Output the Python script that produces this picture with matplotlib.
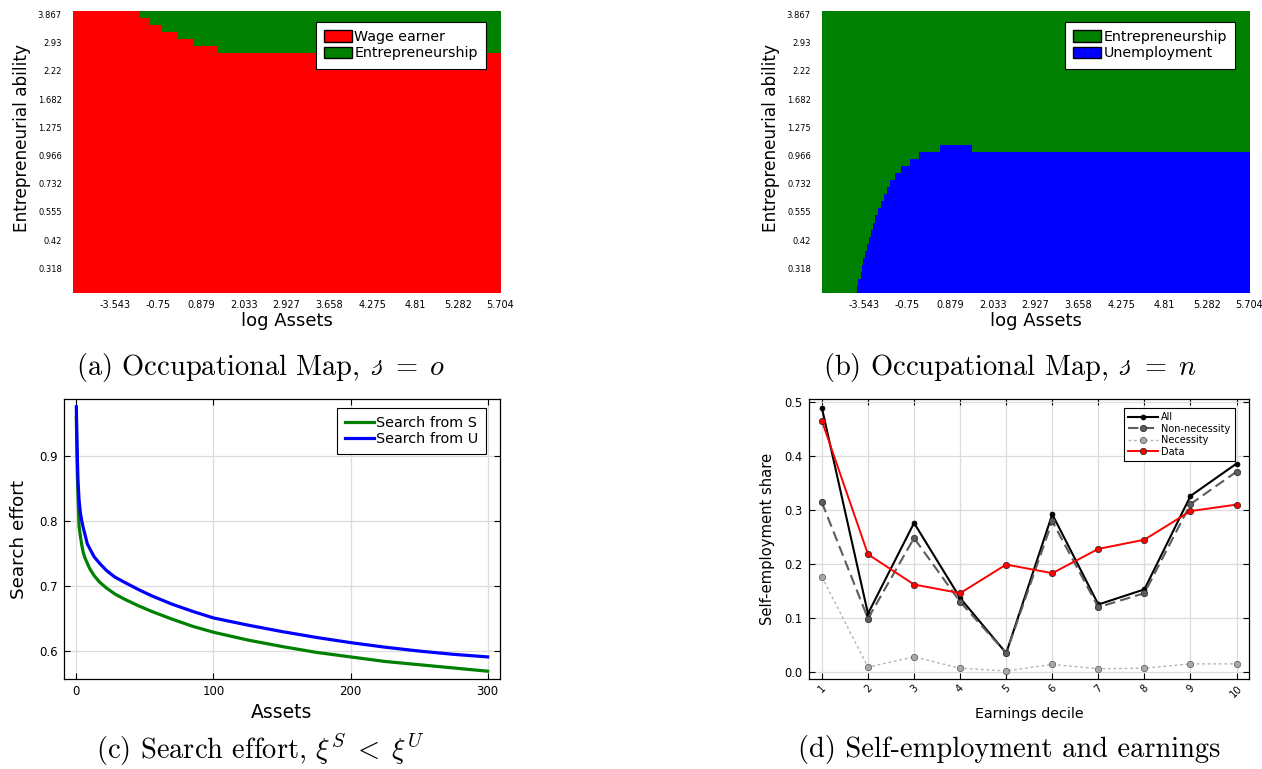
import numpy as np
import matplotlib
matplotlib.use("Agg")
import matplotlib.pyplot as plt
from matplotlib.colors import ListedColormap
from matplotlib.patches import Patch

plt.rcParams['mathtext.fontset'] = 'cm'
plt.rcParams['font.family'] = 'DejaVu Sans'

# ---------------- data ----------------
# occupational maps: grid of asset columns x ability rows (index space)
n_asset_cols = 400
n_ability_rows = 40
asset_tick_labels = ['-3.543', '-0.75', '0.879', '2.033', '2.927', '3.658', '4.275', '4.81', '5.282', '5.704']
ability_tick_labels = ['0.318', '0.42', '0.555', '0.732', '0.966', '1.275', '1.682', '2.22', '2.93', '3.867']

# panel (a): number of top ability rows that are entrepreneurs, starting at asset column
ent_top_rows = [1, 2, 3, 4, 5, 6]
ent_start_col = [62, 72, 83, 97, 112, 135]

# panel (b): unemployment rows (from bottom) start columns
unemp_rows = list(range(1, 21))
unemp_start_col = [33, 34, 36, 37, 38, 40, 42, 44, 46, 48, 50, 52, 55, 58, 61, 64, 68, 74, 82, 91]
unemp_extra_row = 21
unemp_extra_cols = (110, 140)

# panel (c): search effort
assets = [0, 0.3, 0.7, 1.2, 2, 3, 4, 5, 6, 8, 10, 13, 17, 22, 28, 35, 45, 55, 70, 85,
          100, 125, 150, 175, 200, 225, 250, 275, 300]
search_S = [0.960, 0.920, 0.875, 0.840, 0.792, 0.776, 0.763, 0.752, 0.745, 0.735, 0.726, 0.716,
            0.706, 0.697, 0.688, 0.680, 0.670, 0.661, 0.649, 0.638,
            0.629, 0.617, 0.607, 0.598, 0.591, 0.584, 0.579, 0.574, 0.569]
search_U = [0.976, 0.940, 0.900, 0.862, 0.832, 0.812, 0.800, 0.790, 0.782, 0.765, 0.757, 0.745,
            0.735, 0.724, 0.714, 0.706, 0.695, 0.685, 0.672, 0.661,
            0.651, 0.640, 0.630, 0.621, 0.613, 0.606, 0.600, 0.595, 0.591]

# panel (d): self-employment by earnings decile
deciles = list(range(1, 11))
se_all = [0.489, 0.108, 0.276, 0.137, 0.035, 0.292, 0.125, 0.153, 0.326, 0.386]
se_nonnec = [0.314, 0.099, 0.248, 0.130, 0.035, 0.279, 0.120, 0.146, 0.311, 0.371]
se_nec = [0.176, 0.009, 0.028, 0.007, 0.002, 0.014, 0.006, 0.007, 0.015, 0.015]
se_data = [0.465, 0.218, 0.162, 0.146, 0.199, 0.183, 0.228, 0.245, 0.298, 0.310]

# ---------------- figure ----------------
W, H = 1262, 769
fig = plt.figure(figsize=(W / 100, H / 100), dpi=100)

def ax_px(x0, x1, y0, y1):
    return fig.add_axes([x0 / W, 1 - y1 / H, (x1 - x0) / W, (y1 - y0) / H])

def occ_axes(ax, M, colors, labels):
    ax.imshow(M, origin='lower', extent=(0.5, n_asset_cols + 0.5, 0.5, n_ability_rows + 0.5),
              aspect='auto', interpolation='nearest', cmap=ListedColormap(colors), vmin=0, vmax=1)
    ax.set_xlim(0.5, n_asset_cols + 0.5)
    ax.set_ylim(0.5, n_ability_rows + 0.5)
    xt = [n_asset_cols // 10 * (i + 1) for i in range(10)]
    yt = [n_ability_rows // 10 * (i + 1) for i in range(10)]
    ax.set_xticks(xt)
    ax.set_xticklabels(asset_tick_labels, fontsize=7)
    ax.set_yticks(yt)
    ax.set_yticklabels(ability_tick_labels, fontsize=6)
    ax.tick_params(axis='x', length=0, pad=5)
    ax.tick_params(axis='y', length=0, pad=8)
    for s in ax.spines.values():
        s.set_visible(False)
    ax.set_xlabel('log Assets', fontsize=13)
    ax.set_ylabel('Entrepreneurial ability', fontsize=12.2)
    ax.xaxis.set_label_coords(0.5, -0.068)
    ax.yaxis.set_label_coords(-0.097, 0.55)
    handles = [Patch(facecolor=colors[i], edgecolor='black', linewidth=1) for i in range(2)]
    leg = ax.legend(handles, labels, loc='upper right', bbox_to_anchor=(0.966, 0.962),
                    borderaxespad=0, fontsize=10.3, fancybox=False, framealpha=1,
                    edgecolor='black', handlelength=1.95, handleheight=0.9,
                    handletextpad=0.15, labelspacing=0.15, borderpad=0.6)
    leg.get_frame().set_linewidth(0.8)

# panel (a)
Ma = np.zeros((n_ability_rows, n_asset_cols))
for k, c in zip(ent_top_rows, ent_start_col):
    Ma[n_ability_rows - k, c:] = 1
axa = ax_px(73, 501, 11, 293)
occ_axes(axa, Ma, ['#FF0000', '#008000'], ['Wage earner', 'Entrepreneurship'])

# panel (b)
Mb = np.zeros((n_ability_rows, n_asset_cols))
for k, c in zip(unemp_rows, unemp_start_col):
    Mb[k - 1, c:] = 1
Mb[unemp_extra_row - 1, unemp_extra_cols[0]:unemp_extra_cols[1]] = 1
axb = ax_px(822, 1250, 11, 293)
occ_axes(axb, Mb, ['#008000', '#0000FF'], ['Entrepreneurship', 'Unemployment'])

def boxed(ax):
    ax.grid(True, color='#dcdcdc', linewidth=0.9)
    ax.set_axisbelow(True)
    ax.tick_params(direction='in', top=True, right=True, length=4, width=0.8)
    for s in ax.spines.values():
        s.set_linewidth(0.9)

# panel (c)
axc = ax_px(64, 500, 399, 679)
axc.plot(assets, search_S, color='#008000', lw=2.3, label='Search from S')
axc.plot(assets, search_U, color='#0000FF', lw=2.3, label='Search from U')
axc.set_xlim(-9, 309)
axc.set_ylim(0.557, 0.988)
axc.set_xticks([0, 100, 200, 300])
axc.set_yticks([0.6, 0.7, 0.8, 0.9])
boxed(axc)
axc.tick_params(labelsize=8.5, pad=4.5)
axc.set_xlabel('Assets', fontsize=13.5)
axc.set_ylabel('Search effort', fontsize=13.2)
axc.xaxis.set_label_coords(0.5, -0.085)
axc.yaxis.set_label_coords(-0.082, 0.5)
leg = axc.legend(loc='upper right', bbox_to_anchor=(0.968, 0.968), borderaxespad=0,
                 fontsize=10.4, fancybox=False, framealpha=1, edgecolor='black',
                 handlelength=2.0, handletextpad=0.15, labelspacing=0.15, borderpad=0.55)
leg.get_frame().set_linewidth(0.8)

# panel (d)
axd = ax_px(809, 1249, 399, 679)
axd.plot(deciles, se_all, color='black', lw=1.5, marker='o', ms=3.6,
         mfc='black', mec='black', mew=0.5, label='All')
axd.plot(deciles, se_nonnec, color='#5c5c5c', lw=1.5, ls=(0, (5, 2.5)), marker='o', ms=4.6,
         mfc='#5c5c5c', mec='#222222', mew=0.5, label='Non-necessity')
axd.plot(deciles, se_nec, color='#b4b4b4', lw=1.0, ls=(0, (2, 2)), marker='o', ms=4.6,
         mfc='#a8a8a8', mec='#555555', mew=0.5, label='Necessity')
axd.plot(deciles, se_data, color='#FF0000', lw=1.4, marker='o', ms=4.6,
         mfc='#FF0000', mec='#222222', mew=0.5, label='Data')
axd.set_xlim(0.72, 10.27)
axd.set_ylim(-0.013, 0.5056)
axd.set_xticks(deciles)
axd.set_yticks([0.0, 0.1, 0.2, 0.3, 0.4, 0.5])
boxed(axd)
axd.tick_params(axis='y', labelsize=8.3, pad=4.5)
axd.tick_params(axis='x', labelsize=7.2, pad=3, labelrotation=45)
axd.set_xlabel('Earnings decile', fontsize=10.3)
axd.set_ylabel('Self-employment share', fontsize=10.6)
axd.xaxis.set_label_coords(0.5, -0.1)
axd.yaxis.set_label_coords(-0.077, 0.5)
leg = axd.legend(loc='upper right', bbox_to_anchor=(0.968, 0.968), borderaxespad=0,
                 fontsize=7, fancybox=False, framealpha=1, edgecolor='black',
                 handlelength=3.1, handletextpad=0.3, labelspacing=0.15, borderpad=0.45)
leg.get_frame().set_linewidth(0.8)

# captions
cap_kw = dict(family='cmr10', fontsize=20.5, ha='center', va='center')
fig.text(261 / W, 1 - 368 / H, r'(a) Occupational Map, $\mathscr{s}\;=\;o$', **cap_kw)
fig.text(1010 / W, 1 - 368 / H, r'(b) Occupational Map, $\mathscr{s}\;=\;n$', **cap_kw)
fig.text(260 / W, 1 - 750 / H, r'(c) Search effort, $\xi^S\;<\;\xi^U$', **cap_kw)
fig.text(1009 / W, 1 - 750 / H, r'(d) Self-employment and earnings', **cap_kw)

fig.savefig('out.png', dpi=100)
